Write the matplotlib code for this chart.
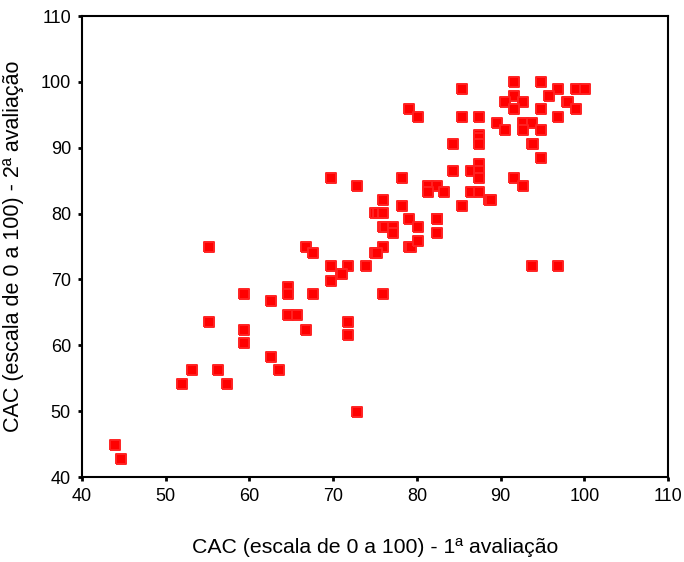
import matplotlib
matplotlib.use("Agg")
import matplotlib.pyplot as plt

plt.rcParams["font.family"] = ["Liberation Sans", "DejaVu Sans"]

# CAC scores, 1st vs 2nd evaluation
aval1 = [91.6, 94.8, 85.4, 96.9, 99.0, 100.1, 95.8, 91.6, 90.5, 92.7,
         97.9, 98.1, 79.1, 91.6, 94.8, 99.0, 80.1, 85.4, 87.4, 96.9,
         89.6, 92.7, 93.8, 90.5, 92.7, 94.8, 87.4, 87.4, 87.4, 84.3,
         93.8, 93.9, 94.8, 87.4, 84.3, 86.5, 87.4, 87.4, 69.8, 78.2,
         91.6, 72.8, 81.3, 82.4, 92.7, 81.3, 83.3, 86.5, 87.4, 88.6,
         88.8, 76.0, 78.2, 85.4, 75.0, 75.3, 76.0, 79.1, 82.4, 82.4,
         76.0, 76.2, 77.1, 80.1, 77.1, 82.4, 55.2, 66.7, 76.0, 79.1,
         79.3, 80.1, 67.6, 75.0, 75.2, 69.8, 71.8, 73.9, 93.8, 96.9,
         70.9, 71.0, 69.8, 64.6, 64.6, 59.4, 67.6, 76.0, 62.6, 64.6,
         65.7, 55.2, 71.8, 59.4, 66.7, 71.8, 59.4, 62.6, 53.1, 56.2,
         63.5, 51.9, 57.3, 72.8, 43.9, 44.7]
aval2 = [100.0, 100.0, 98.9, 98.9, 98.9, 98.9, 97.9, 97.9, 96.9, 96.9,
         96.9, 96.9, 95.9, 95.9, 95.9, 95.9, 94.7, 94.7, 94.7, 94.7,
         93.8, 93.8, 93.8, 92.7, 92.7, 92.7, 91.9, 91.5, 90.5, 90.5,
         90.5, 90.5, 88.4, 87.5, 86.4, 86.4, 86.4, 85.4, 85.4, 85.4,
         85.4, 84.2, 84.2, 84.2, 84.2, 83.3, 83.3, 83.3, 83.3, 82.1,
         82.1, 82.1, 81.2, 81.2, 80.1, 80.1, 80.1, 79.2, 79.2, 79.2,
         78.0, 78.0, 78.0, 78.0, 77.1, 77.1, 74.9, 74.9, 74.9, 74.9,
         74.9, 75.9, 74.0, 74.0, 74.0, 72.0, 72.0, 72.0, 72.0, 72.0,
         70.8, 70.8, 69.8, 68.8, 67.8, 67.8, 67.8, 67.8, 66.7, 64.6,
         64.6, 63.6, 63.6, 62.4, 62.4, 61.5, 60.4, 58.3, 56.2, 56.2,
         56.2, 54.1, 54.1, 49.9, 44.8, 42.7]

fig = plt.figure(figsize=(6.84, 5.62), dpi=100)
ax = fig.add_axes([0.1199, 0.1512, 0.8567, 0.8203])

# slightly wide rounded red box, like the SPSS marker
box = [(-1.15, -1), (1.15, -1), (1.15, 1), (-1.15, 1), (-1.15, -1)]
pts = ax.scatter(aval1, aval2, marker=box, s=58, facecolor="#ff0000",
                 edgecolor="#ff2222", linewidths=1.4, zorder=3)
pts.set_joinstyle("round")

ax.set_xlim(40, 110)
ax.set_ylim(40, 110)
ax.set_xticks(range(40, 111, 10))
ax.set_yticks(range(40, 111, 10))
ax.tick_params(direction="out", length=3, width=2, labelsize=13,
               pad=5, colors="black")

for side in ax.spines.values():
    side.set_linewidth(1.5)
    side.set_color("black")

ax.set_xlabel("CAC (escala de 0 a 100) - 1ª avaliação", fontsize=15.3,
              labelpad=24)
ax.set_ylabel("CAC (escala de 0 a 100) - 2ª avaliação", fontsize=15.5,
              labelpad=12)

fig.savefig("out.png", dpi=100)
